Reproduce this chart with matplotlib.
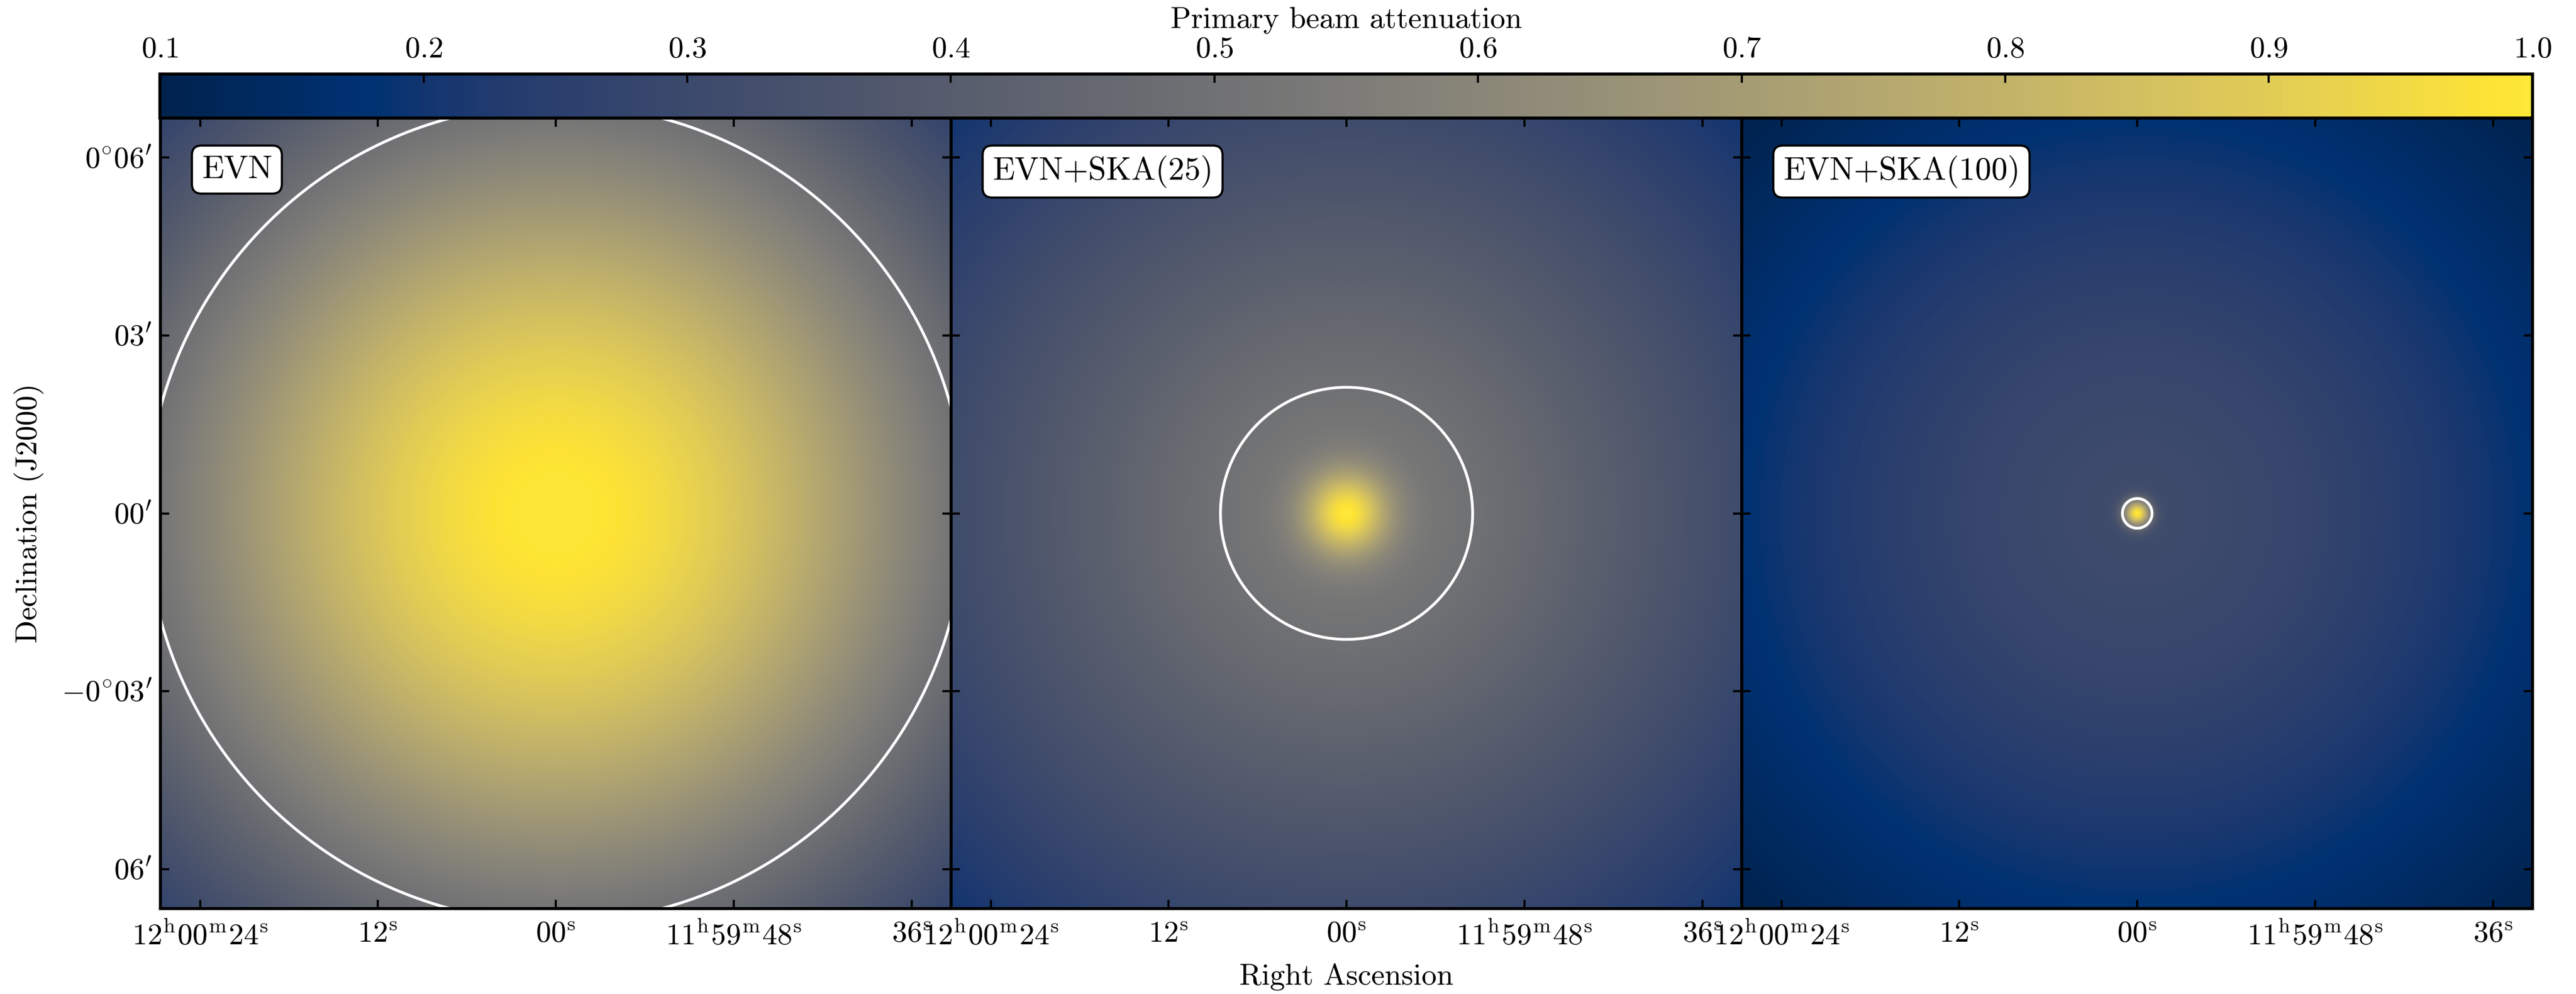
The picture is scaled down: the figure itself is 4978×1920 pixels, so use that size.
import numpy as np
import matplotlib
matplotlib.use('Agg')
import matplotlib.pyplot as plt

plt.rcParams['font.family'] = 'serif'
plt.rcParams['font.serif'] = ['cmr10', 'DejaVu Serif']
plt.rcParams['mathtext.fontset'] = 'cm'
plt.rcParams['axes.formatter.use_mathtext'] = True
plt.rcParams['font.size'] = 14

# panels and beam parameters (offsets in arcsec from 12h00m00s, +0d00m00s)
panel_labels = ['EVN', 'EVN+SKA(25)', 'EVN+SKA(100)']
# three gaussian components per panel: broad, mid, core
broad_fwhm = [828.0, 1000.0, 900.0]
broad_weight = [1.0, 0.485, 0.31]
mid_fwhm = [300.0, 300.0, 300.0]
mid_weight = [0.0, 0.06, 0.0]
core_fwhm = [70.0, 70.0, 22.0]
half_size = 400.0
contour_levels = [0.5]

ra_ticks = [360, 180, 0, -180, -360]
ra_labels = [r'$12^{\mathrm{h}}00^{\mathrm{m}}24^{\mathrm{s}}$', r'$12^{\mathrm{s}}$',
             r'$00^{\mathrm{s}}$', r'$11^{\mathrm{h}}59^{\mathrm{m}}48^{\mathrm{s}}$',
             r'$36^{\mathrm{s}}$']
dec_ticks = [360, 180, 0, -180, -360]
dec_labels = [r'$0^{\circ}06^{\prime}$', r'$03^{\prime}$', r'$00^{\prime}$',
              r'$-0^{\circ}03^{\prime}$', r'$06^{\prime}$']
cbar_ticks = [0.1, 0.2, 0.3, 0.4, 0.5, 0.6, 0.7, 0.8, 0.9, 1.0]


def gaussian(r, fwhm):
    return np.exp(-4 * np.log(2) * r ** 2 / fwhm ** 2)


def beam(x, y, i):
    r = np.hypot(x, y)
    wb, wm = broad_weight[i], mid_weight[i]
    return (wb * gaussian(r, broad_fwhm[i]) + wm * gaussian(r, mid_fwhm[i])
            + (1 - wb - wm) * gaussian(r, core_fwhm[i]))


fig = plt.figure(figsize=(4978 / 300, 1920 / 300), dpi=300)

left, bottom, width, height = 0.0623, 0.0859, 0.30695, 0.7953
axes = [fig.add_axes([left + i * width, bottom, width, height]) for i in range(3)]

fine = np.linspace(-half_size, half_size, 801)
xf, yf = np.meshgrid(fine, fine)

for i, ax in enumerate(axes):
    img = beam(xf, yf, i)
    im = ax.imshow(img, origin='lower', cmap='cividis', vmin=0.1, vmax=1.0,
                   extent=[-half_size, half_size, -half_size, half_size],
                   interpolation='bilinear', aspect='auto')
    ax.contour(xf, yf, img, levels=contour_levels, colors='white', linewidths=1.3)
    ax.set_xlim(half_size, -half_size)
    ax.set_ylim(-half_size, half_size)
    ax.set_xticks(ra_ticks)
    ax.set_xticklabels(ra_labels)
    ax.set_yticks(dec_ticks)
    if i == 0:
        ax.set_yticklabels(dec_labels)
        ax.set_ylabel('Declination (J2000)', labelpad=8)
    else:
        ax.set_yticklabels([])
    if i == 1:
        ax.set_xlabel('Right Ascension', labelpad=6)
    ax.tick_params(direction='in', top=True, right=True, length=4, width=1)
    ax.tick_params(axis='x', pad=6)
    ax.tick_params(axis='y', pad=4)
    for s in ax.spines.values():
        s.set_linewidth(1.4)
    ax.text(0.052, 0.953, panel_labels[i], transform=ax.transAxes, ha='left', va='top',
            fontsize=15,
            bbox=dict(boxstyle='round,pad=0.3', facecolor='white', edgecolor='black', linewidth=1))

cax = fig.add_axes([0.0621, 0.88125, 0.9210, 0.0443])
cb = fig.colorbar(im, cax=cax, orientation='horizontal', ticks=cbar_ticks)
cax.xaxis.set_ticks_position('top')
cax.xaxis.set_label_position('top')
cax.tick_params(direction='in', length=4, width=1, pad=5)
cb.outline.set_linewidth(1.4)
cb.set_label('Primary beam attenuation', labelpad=4)

fig.savefig('out.png', dpi=300)
